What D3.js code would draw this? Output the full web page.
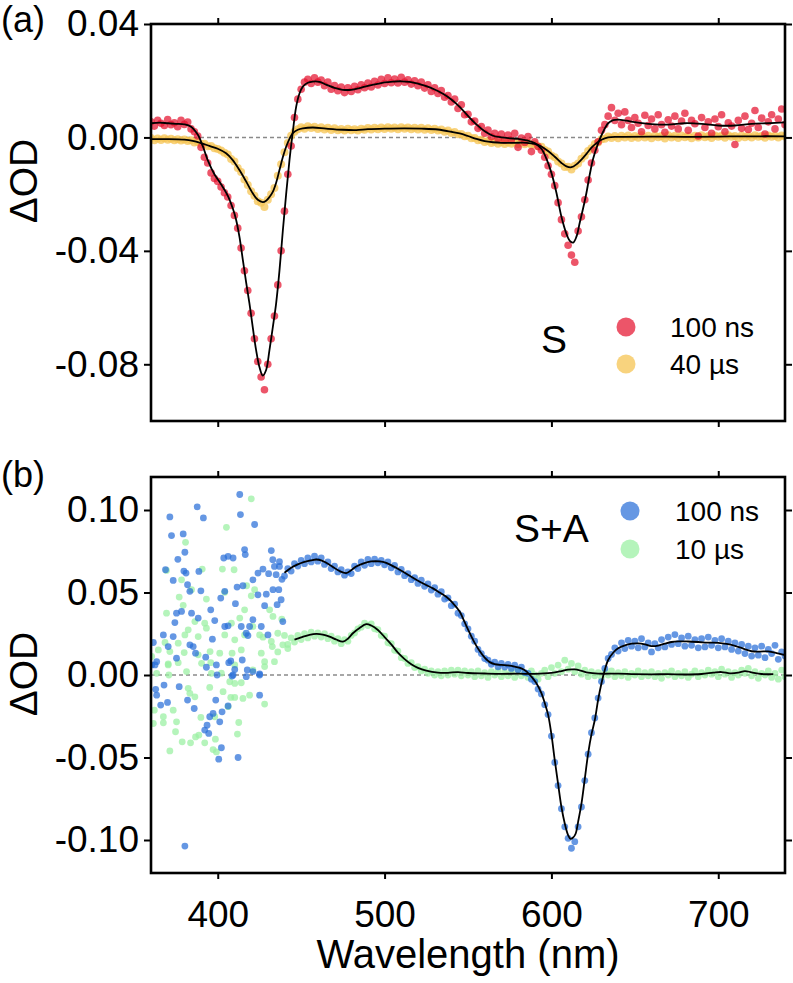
<!DOCTYPE html>
<html>
<head>
<meta charset="utf-8">
<script src="https://cdn.jsdelivr.net/npm/d3@7"></script>
<style>
body { margin: 0; background: #fff; }
text { font-family: "Liberation Sans", Arial, sans-serif; fill: #000; }
</style>
</head>
<body>
<svg id="chart"></svg>
<script>
// all values in mOD (1 mOD = 0.001 dOD)

var xDomain = [360, 740];
var xTicks = [400, 500, 600, 700];
var xTickLabels = ["400", "500", "600", "700"];

var yDomainA = [-100, 40];
var yTicksA = [40, 0, -40, -80];
var yTickLabelsA = ["0.04", "0.00", "-0.04", "-0.08"];

var yDomainB = [-120, 120];
var yTicksB = [100, 50, 0, -50, -100];
var yTickLabelsB = ["0.10", "0.05", "0.00", "-0.05", "-0.10"];

// panel (a), sampled every 2 nm from 360 nm
var sampleA = {start: 360, step: 2};
var red100ns = [
  5.5, 4, 6, 5, 4.2, 6.3, 4.5, 5.2, 3.8, 6,
  4.6, 5.4, 3, 2, 0.5, -3.5, -7, -9, -12.5, -14.5,
  -15.5, -17.5, -19.5, -21, -24, -27.5, -32, -39, -47, -54,
  -62, -71, -79, -84.5, -89, -80, -71, -63, -52, -40,
  -26, -13, -3, 7, 13.5, 17, 19.5, 20.5, 19, 21,
  19.5, 20.2, 18.2, 19.5, 17, 18.3, 16.5, 17.8, 15.8, 17.5,
  16.2, 18, 16.8, 18.6, 17.5, 19.2, 17.8, 19.8, 18.5, 20.5,
  19, 21, 19.3, 20.6, 19.2, 21.2, 19.5, 20.3, 18.8, 20,
  18.2, 19.5, 17.4, 18.6, 16.2, 17.5, 15.5, 16.5, 14.2, 14.8,
  12.5, 13.5, 10.2, 11.5, 8, 8.2, 5.5, 5.8, 3.2, 3.8,
  1.5, 2.6, 0.2, 1.5, -0.5, 1.2, -1, 0.8, -0.8, 1.5,
  -3.5, -0.2, -1.8, 0.3, -5, -1.5, -3.2, -4.5, -7, -10,
  -13, -17, -23, -29, -34, -38, -41.5, -44, -33, -28,
  -22, -15, -9, -4.5, -1.5, 2.5, 4.5, 7.5, 10.5, 6,
  8.5, 4.5, 9, 6, 3.5, 7, 5, 2, 7.8, 4.2,
  6.5, 3, 8, 4.5, 1.8, 6.2, 4, 7.5, 3, 5.8,
  8.5, 2.5, 6, 4.8, 0.5, 7, 3.5, 5.5, 1.5, 6.5,
  3.8, 8, 2, 5.2, 4, -2.5, 6, 3.2, 7.5, 2.8,
  5, 9.5, 3.5, 6.8, 1.2, 5.5, 8, 3, 6.5, 10,
  4.5
];
var yellow40us = [
  -0.2, -1, -0.4, -0.9, -0.3, -0.8, -0.5, -1, -0.6, -1.1,
  -0.7, -1.3, -1, -1.8, -1.5, -2.3, -2.2, -3.1, -3, -3.8,
  -4.1, -4.6, -5.4, -6, -7.6, -8.5, -10.8, -12.2, -14.8, -16.8,
  -19, -20.6, -22.5, -23, -24.5, -22, -20, -17.8, -13.5, -9.5,
  -5.2, -2, 0.6, 2, 2.9, 3.6, 3.1, 3.9, 3.3, 3.8,
  3, 3.6, 2.8, 3.4, 2.6, 3.2, 2.5, 3, 2.4, 3.1,
  2.5, 2.9, 2.4, 3.1, 2.7, 3.3, 2.8, 3.4, 2.9, 3.5,
  3, 3.6, 3.1, 3.5, 2.9, 3.6, 3.1, 3.5, 2.9, 3.4,
  2.8, 3.4, 2.7, 3.2, 2.6, 3.1, 2.4, 2.8, 2, 2.4,
  1.6, 1.9, 1.1, 1.2, 0.4, 0.6, -0.3, -0.2, -1, -0.8,
  -1.6, -1.3, -2, -1.5, -2.2, -1.6, -2.3, -1.7, -2.2, -1.6,
  -2.3, -1.8, -2.4, -1.9, -2.6, -2.4, -3.1, -3.3, -4.4, -5,
  -6.4, -7, -8.5, -9.2, -10.4, -10.3, -11.3, -10, -9.2, -7.5,
  -6.5, -4.8, -3.8, -2.3, -1.8, -0.6, -0.5, 0.3, -0.2, 0.5,
  -0.3, 0.6, 0, 0.7, -0.2, 0.5, -0.1, 0.8, 0, 0.6,
  -0.3, 0.7, 0.1, 0.5, -0.4, 0.8, 0, 0.6, -0.2, 0.7,
  0.1, 0.5, -0.3, 0.6, 0, 0.8, 0.1, 0.5, -0.2, 0.7,
  0.2, 0.6, -0.1, 0.8, 0.2, 0.5, -0.2, 0.7, 0.1, 0.6,
  0, 0.8, 0.2, 0.5, -0.1, 0.7, 0.2, 0.6, 0, 0.7,
  0.3
];
var redFit = [
  [360,5],[365,5.2],[370,5],[375,4.8],[380,4.6],[384,3.8],[388,1],[391,-3],[394,-8],[398,-13],
  [402,-16.5],[406,-20.5],[409,-25],[411,-29],[413,-35],[415,-43],[417,-51],[419,-58.5],[421,-67],[423,-75],
  [425,-81],[427,-84],[429,-82],[431,-75],[433,-67],[435,-58.5],[437,-47],[439,-33],[441,-20],[443,-8],
  [445,2],[447,10.8],[449,15.5],[451,17.9],[454,19.3],[457,19.7],[461,19.6],[465,18.6],[470,17.5],[475,16.8],
  [480,16.8],[485,17.4],[490,18.2],[495,18.8],[500,19.4],[505,19.7],[510,19.8],[515,19.6],[520,19],[525,18.1],
  [530,16.9],[535,15.4],[540,13.4],[545,10.8],[550,7.6],[555,4.6],[560,2.2],[565,0.6],[570,0],[575,-0.3],
  [580,-0.5],[585,-1],[590,-2],[594,-4],[597,-7.5],[600,-12.5],[603,-19.5],[606,-28],[609,-34],[611,-36.5],
  [613,-37.1],[615,-35],[617,-30],[619,-25],[621,-19.5],[623,-13],[625,-7.5],[628,-2.1],[631,2],[634,5],
  [637,6.1],[640,6.3],[645,5.9],[650,5.4],[660,4.7],[670,4.5],[680,5],[690,4.8],[700,4.2],[710,4.2],
  [720,4.8],[730,5],[740,5.3]
];
var yellowFit = [
  [360,-0.6],[370,-0.6],[380,-0.8],[385,-1.2],[390,-2],[395,-3],[400,-4],[405,-5.6],[409,-8],[413,-11.5],
  [417,-15.5],[421,-19.7],[424,-22],[427,-22.8],[429,-22.3],[431,-21],[433,-19.2],[435,-16],[437,-11.5],[439,-7],
  [441,-3.3],[443,-0.5],[445,1.5],[448,2.7],[451,3.2],[457,3.5],[465,3.1],[475,2.7],[483,2.6],[490,2.9],
  [500,3.1],[512,3.2],[522,3.1],[532,2.8],[540,2],[545,1.4],[550,0.5],[555,-0.5],[560,-1.3],[565,-1.7],
  [570,-1.9],[578,-1.9],[585,-1.9],[590,-2.3],[594,-3.2],[598,-4.8],[602,-6.8],[606,-9],[609,-10.2],[612,-10.5],
  [615,-9.5],[618,-7.8],[621,-5.8],[624,-3.6],[627,-2],[630,-0.8],[634,0],[640,0.2],[660,0.3],[680,0.2],
  [700,0.3],[720,0.4],[740,0.4]
];

// panel (b): noisy short-wavelength points [nm, mOD]
var blueNoisy = [
  [371.3,95.8],[387.7,101.9],[391.4,95.2],[413.2,109.4],[413.6,97.2],[422.1,91.2],[372.3,84.5],[379.3,85.5],
  [380.3,74.4],[376.1,70.1],[368.7,63.8],[373.3,57.3],[379.7,63],[381,61.8],[381.9,54.7],[383.3,50.7],
  [388.7,62.8],[389.9,51],[403.6,70.9],[406.2,71.9],[409.2,70.9],[416.1,76],[416.5,73],[427.1,64.2],
  [424.1,61.8],[421.1,57.7],[432.1,75.4],[430.5,61.4],[437,68.7],[434,65.8],[411.6,53.3],[415.1,54.1],
  [404.2,50.7],[401.8,46.6],[410.6,43.2],[424.1,48.6],[429.1,49],[433.1,51.7],[436.6,51.7],[428.1,42],
  [435.6,42.6],[395.8,39.5],[375.3,37.5],[378.3,38.5],[384.3,37.5],[388.3,34.5],[398.2,33],[374.3,31.8],
  [404.2,29.4],[406.2,29.8],[414.1,29.4],[419.1,29.4],[421.1,33.5],[426.1,29.4],[367.4,24.3],[373.3,23.3],
  [383.3,18.3],[385.3,17.2],[396.8,21.7],[417.1,25.3],[418.1,23.9],[430.1,24.3],[361.4,19.7],[363.4,8.1],
  [362.4,6.1],[370.3,17.2],[375.3,10.2],[386.7,13.2],[392.8,10.8],[399.2,6.1],[406.6,7.5],[407.8,8.5],
  [414.7,9.1],[417.7,3.1],[421.1,2.1],[409.2,0],[425.1,0.6],[360.4,6.1],[393.2,4.7],[410.2,3.4],
  [425.1,0],[367.8,-6.1],[376.9,-7.1],[362.8,-8.7],[363.4,-12.2],[365.8,-18.2],[369.9,-16.6],[381.9,-15.2],
  [385.9,-20.3],[398.8,-15.2],[402.6,-22.3],[406.2,-18.8],[397.2,-23.3],[395.2,-25.3],[401.2,-28.4],[393.6,-30.4],
  [392.2,-33.4],[394.6,-35.4],[425.1,-12.2],[402.2,-44.1],[400.6,-51],[412.2,-50],[380.3,-103.7],[408.6,-0.6],
  [417.1,-1],[399.6,0],[433,69.9],[437,65.8],[435,60.8],[438,45.6],[439,32.4],[438.5,58]
];
var greenNoisy = [
  [420.1,106.8],[405.2,89.5],[380.7,80.4],[402.8,64.2],[409.8,63.8],[390.7,64.2],[369.3,63.4],[378.3,57.7],
  [384.3,51.7],[404.2,50.1],[417.3,54.1],[420.1,48],[422.1,51.7],[376.9,47.2],[393.2,46],[379.3,42.2],
  [416.1,39.5],[431.1,39.5],[433.1,35.5],[369.3,37.5],[386.3,32.4],[382.3,27.4],[392.2,31.4],[393.2,28.4],
  [408.2,31.4],[413.2,34.5],[421.1,29.4],[438.4,33.9],[380.3,24.3],[388.3,23.3],[404.2,24.3],[410.2,21.3],
  [416.1,24.3],[425.1,24.3],[427.1,22.9],[436,25.3],[432.1,20.3],[439,18.3],[360.4,11.2],[364.4,15.2],
  [368.4,19.7],[376.3,19.3],[371.3,14.2],[379.9,13.6],[388.3,12.2],[395.4,14.2],[401.2,13.2],[408.6,13.2],
  [414.1,15.2],[426.1,13.2],[432.7,17.2],[370.3,6.1],[390.3,7.1],[395.8,7.5],[410.2,6.1],[428.1,8.1],
  [434,8.1],[381.3,2.1],[402.2,1.1],[421.1,3.1],[428.1,5.1],[370.3,6.7],[376.3,7.5],[396.2,1],
  [363.4,1],[370.7,0],[407.2,-4.1],[414.1,-4.7],[410.2,-5.1],[382.3,-8.1],[386.3,-13.2],[383.3,-11.1],
  [395.2,-7.5],[403.2,-10.1],[407.8,-13.6],[410.2,-13.6],[415.1,-14.2],[419.1,-12.2],[428.1,-17.6],[362,-21.3],
  [367.4,-25.3],[373.3,-21.3],[375.3,-28.4],[406.2,-19.2],[389.9,-25.7],[398.2,-25.3],[412.6,-28.8],[367.4,-29],
  [361.4,-29.4],[374.7,-34.4],[378.7,-40.5],[383.7,-41.1],[386.7,-37.5],[388.7,-36.4],[392.2,-41.1],[398.6,-38.9],
  [411.8,-35.8],[371.3,-46],[397.2,-45.2],[399.2,-46.6],[442,16],[436,14]
];

// panel (b), sampled every 2 nm from 440 nm
var sampleB = {start: 440, step: 2};
var blue100ns = [
  60, 64.5, 63, 67.5, 66, 69.5, 67.5, 71, 68.5, 72,
  69, 71, 67, 68.5, 64.5, 66, 62.5, 63.8, 60.5, 62.5,
  61.5, 66, 64.5, 68.5, 66.5, 70, 67.5, 70.2, 68, 69.5,
  66.8, 68.5, 65, 66.5, 62.5, 64, 60.2, 61.5, 57.8, 59,
  55.5, 57.5, 53.8, 55.2, 51.5, 53, 49, 50.5, 46, 46.8,
  42, 43, 37.5, 36, 31, 28, 23.5, 20.5, 15.5, 13,
  10, 9, 6.5, 7.8, 5, 7, 4.8, 6.5, 4, 6,
  3.2, 4.8, 1.5, 1, -2.5, -4, -8.5, -11.5, -18, -24,
  -37, -53, -67, -81, -92, -99, -105, -101, -92, -80,
  -64, -48, -35, -26, -14, -4, 4, 10, 12.5, 16.5,
  14.5, 19.5, 16, 21, 17.5, 20.5, 16.5, 22, 17, 19.5,
  14, 19, 16.5, 21.5, 17, 23, 18.5, 24.5, 19, 22.5,
  17.5, 23.5, 18, 21.5, 16.5, 22, 17, 23, 18, 21,
  16.5, 22, 17, 20.5, 15.5, 19.5, 14.5, 18.5, 13, 17.5,
  11.5, 16.5, 12, 17.5, 10.5, 15.5, 13, 18, 9.5, 14,
  11.5
];
var green10us = [
  24, 18.5, 22.5, 20, 24, 21.5, 25, 22.5, 26, 23.5,
  25.5, 23, 25, 22, 23.5, 20.5, 22, 19, 21.5, 20.5,
  24, 25.5, 28, 29, 31.5, 30, 31, 28, 27.5, 24,
  23.5, 19.5, 19, 15, 14.5, 10.5, 10, 7, 7.5, 4.5,
  5, 2.5, 3.5, 1, 2.5, 0, 2, -0.5, 2.5, 0,
  3, 0.5, 3, -0.5, 2.5, 0, 2, -1, 2.5, -0.5,
  1.5, -1.5, 2, 0, 2.5, -1, 1.5, -0.5, 2, -1.5,
  3, -0.5, 1, -1.5, 2.5, 0, -2.5, 1, 3, -1,
  4.5, 1, 6, 2, 9, 3.5, 7, 2, 5.5, 0.5,
  3, -1, 2, -0.5, 1.5, -1.5, 2, 0, 2.5, -1,
  1.5, -0.5, 2, -1.5, 1, 0, 2.5, -1, 1.5, -0.5,
  2, -1, 1, -2, 1.5, 0, 2.5, -1, 1, -0.5,
  2, -1.5, 0.5, 2.5, -1, 1.5, 0, 3, 0.5, 2,
  -1, 3.5, 0.5, 2, -1.5, 1.5, 0, 3, 1, 4,
  -0.5, 2, -2, 1, 0, 2.5, -1.5, 1, -2.5, 3,
  -1
];
var blueFit = [
  [440,62],[444,65],[448,67],[452,68.5],[456,69.5],[459,70],[462,69.5],[465,68],[469,65.5],[473,63],
  [477,61.8],[480,63.5],[483,65.8],[487,67.5],[492,68.8],[497,68.8],[501,67.9],[505,66],[509,63.8],[514,60.8],
  [519,57.7],[524,55],[529,52.5],[533,50],[537,47.4],[541,43.5],[545,38.5],[548,32],[551,25.5],[554,19.5],
  [557,14.5],[560,10.5],[563,7.8],[566,6.6],[570,6.1],[574,5.8],[578,5.1],[582,4],[585,2.2],[588,-1],
  [591,-5],[594,-11],[596,-17],[598,-24],[600,-36],[602,-51.6],[604,-66],[606,-80],[608,-90],[610,-97],
  [611.5,-99.3],[613,-98.5],[614.5,-96.2],[616,-89],[618,-78],[620,-63],[622,-47.6],[624,-36],[626,-27.3],[628,-15],
  [630,-5],[632,3],[634,9.1],[637,13.5],[640,16.2],[644,18],[648,19],[652,19.2],[656,18.6],[660,17.5],
  [664,17.8],[668,19],[672,20],[676,20.4],[682,20.3],[688,20],[694,19.6],[700,19.5],[705,18.8],[710,17.6],
  [715,16],[720,14.4],[725,14.2],[730,14.3],[735,13.3],[740,12]
];
var greenFit = [
  [446,21.5],[450,22.8],[455,24.3],[459,24.9],[463,24.5],[467,23.3],[471,21.5],[475,20.2],[478,22],[481,25.3],
  [485,28.5],[489,30.8],[492,30],[496,27.3],[500,23],[504,18.6],[508,13.5],[512,9.6],[516,6.5],[520,4.3],
  [525,2.6],[532,1.4],[538,1.3],[544,1.8],[550,1.2],[560,0.9],[570,0.7],[580,0.8],[590,0.7],[600,1.3],
  [606,2.4],[610,3.3],[614,3.4],[618,2.5],[622,1.4],[628,0.8],[640,0.8],[650,0.5],[660,0.4],[670,0.5],
  [680,0.3],[690,0.6],[697,1.4],[702,1.8],[707,1],[712,1.4],[716,2.4],[720,1.6],[726,0.6],[733,0.5]
];

var screen = {width: 793, height: 983};
var frame = {left: 151, right: 785};
var panelA = {top: 24, bottom: 421};
var panelB = {top: 477, bottom: 873};

var colors = {red: "#e5142f", yellow: "#f6c453", blue: "#2a6fd8", green: "#9cf0a4"};

var svg = d3.select("#chart")
    .attr("width", screen.width)
    .attr("height", screen.height);

var xScale = d3.scaleLinear().domain(xDomain).range([frame.left, frame.right]);
var yScaleA = d3.scaleLinear().domain(yDomainA).range([panelA.bottom, panelA.top]);
var yScaleB = d3.scaleLinear().domain(yDomainB).range([panelB.bottom, panelB.top]);

var sampled = function(values, s)
{
    return values.map(function(v, i){ return [s.start + i * s.step, v]; });
}

var drawAxes = function(p, yScale, yTicks, yLabels, xLabels)
{
    var g = svg.append("g");

    g.append("g")
    .attr("transform", "translate(" + frame.left + ",0)")
    .call(d3.axisLeft(yScale).tickValues(yTicks)
        .tickFormat(function(d, i){ return yLabels[i]; })
        .tickSizeInner(7).tickSizeOuter(0).tickPadding(5));

    g.append("g")
    .attr("transform", "translate(" + frame.right + ",0)")
    .call(d3.axisRight(yScale).tickValues(yTicks).tickFormat("")
        .tickSizeInner(7).tickSizeOuter(0));

    g.append("g")
    .attr("transform", "translate(0," + p.top + ")")
    .call(d3.axisTop(xScale).tickValues(xTicks).tickFormat("")
        .tickSizeInner(6).tickSizeOuter(0));

    var bottom = d3.axisBottom(xScale).tickValues(xTicks).tickSizeInner(6).tickSizeOuter(0);
    if (xLabels) {
        bottom.tickFormat(function(d, i){ return xLabels[i]; }).tickPadding(22);
    } else {
        bottom.tickFormat("");
    }
    g.append("g")
    .attr("transform", "translate(0," + p.bottom + ")")
    .call(bottom);

    g.selectAll(".domain").remove();
    g.selectAll(".tick line").attr("stroke", "#000").attr("stroke-width", 2);
    g.selectAll(".tick text").attr("font-size", 37).attr("fill", "#000")
    .attr("font-family", "'Liberation Sans', Arial, sans-serif");

    g.append("rect")
    .attr("x", frame.left).attr("y", p.top)
    .attr("width", frame.right - frame.left).attr("height", p.bottom - p.top)
    .attr("fill", "none").attr("stroke", "#000").attr("stroke-width", 2.6);
}

var drawPanel = function(id, p, yScale, series, fits)
{
    svg.append("clipPath").attr("id", id)
    .append("rect")
    .attr("x", frame.left).attr("y", p.top)
    .attr("width", frame.right - frame.left).attr("height", p.bottom - p.top);

    var g = svg.append("g").attr("clip-path", "url(#" + id + ")");

    g.append("line")
    .attr("x1", frame.left).attr("x2", frame.right)
    .attr("y1", yScale(0)).attr("y2", yScale(0))
    .attr("stroke", "#8a8a8a").attr("stroke-width", 1.4)
    .attr("stroke-dasharray", "4,3");

    series.forEach(function(s)
    {
        g.append("g")
        .selectAll("circle")
        .data(s.points)
        .enter()
        .append("circle")
        .attr("cx", function(d){ return xScale(d[0]); })
        .attr("cy", function(d){ return yScale(d[1]); })
        .attr("r", s.r)
        .attr("fill", s.color)
        .attr("fill-opacity", s.opacity);
    });

    var line = d3.line()
    .x(function(d){ return xScale(d[0]); })
    .y(function(d){ return yScale(d[1]); })
    .curve(d3.curveCatmullRom.alpha(0.5));

    fits.forEach(function(f)
    {
        g.append("path")
        .datum(f)
        .attr("d", line)
        .attr("fill", "none")
        .attr("stroke", "#000")
        .attr("stroke-width", 1.8);
    });
}

var drawLegend = function(title, tx, ty, mx, rows)
{
    svg.append("text").attr("x", tx).attr("y", ty)
    .attr("font-size", 39).text(title);

    rows.forEach(function(r)
    {
        svg.append("circle").attr("cx", mx).attr("cy", r.y).attr("r", 9.5)
        .attr("fill", r.color).attr("fill-opacity", r.opacity);
        svg.append("text").attr("x", r.x).attr("y", r.y + 9.5)
        .attr("font-size", 28).text(r.label);
    });
}

drawPanel("clipA", panelA, yScaleA,
    [{points: sampled(yellow40us, sampleA), color: colors.yellow, r: 4, opacity: 0.75},
     {points: sampled(red100ns, sampleA), color: colors.red, r: 3.8, opacity: 0.72}],
    [yellowFit, redFit]);

drawPanel("clipB", panelB, yScaleB,
    [{points: greenNoisy.concat(sampled(green10us, sampleB)), color: colors.green, r: 3.4, opacity: 0.75},
     {points: blueNoisy.concat(sampled(blue100ns, sampleB)), color: colors.blue, r: 3.4, opacity: 0.72}],
    [greenFit, blueFit]);

drawAxes(panelA, yScaleA, yTicksA, yTickLabelsA, null);
drawAxes(panelB, yScaleB, yTicksB, yTickLabelsB, xTickLabels);

drawLegend("S", 541, 353, 626,
    [{y: 327, x: 670, label: "100 ns", color: colors.red, opacity: 0.72},
     {y: 364, x: 670, label: "40 \u00b5s", color: colors.yellow, opacity: 0.75}]);

drawLegend("S+A", 514, 542, 630,
    [{y: 511, x: 675, label: "100 ns", color: colors.blue, opacity: 0.72},
     {y: 549, x: 675, label: "10 \u00b5s", color: colors.green, opacity: 0.75}]);

svg.append("text").attr("x", 1).attr("y", 32).attr("font-size", 36).text("(a)");
svg.append("text").attr("x", 1).attr("y", 487).attr("font-size", 36).text("(b)");

svg.append("text")
.attr("transform", "translate(37,181) rotate(-90)")
.attr("text-anchor", "middle").attr("font-size", 39).text("\u0394OD");
svg.append("text")
.attr("transform", "translate(37,674) rotate(-90)")
.attr("text-anchor", "middle").attr("font-size", 39).text("\u0394OD");

svg.append("text")
.attr("x", 468).attr("y", 968)
.attr("text-anchor", "middle").attr("font-size", 40).text("Wavelength (nm)");
</script>
</body>
</html>
